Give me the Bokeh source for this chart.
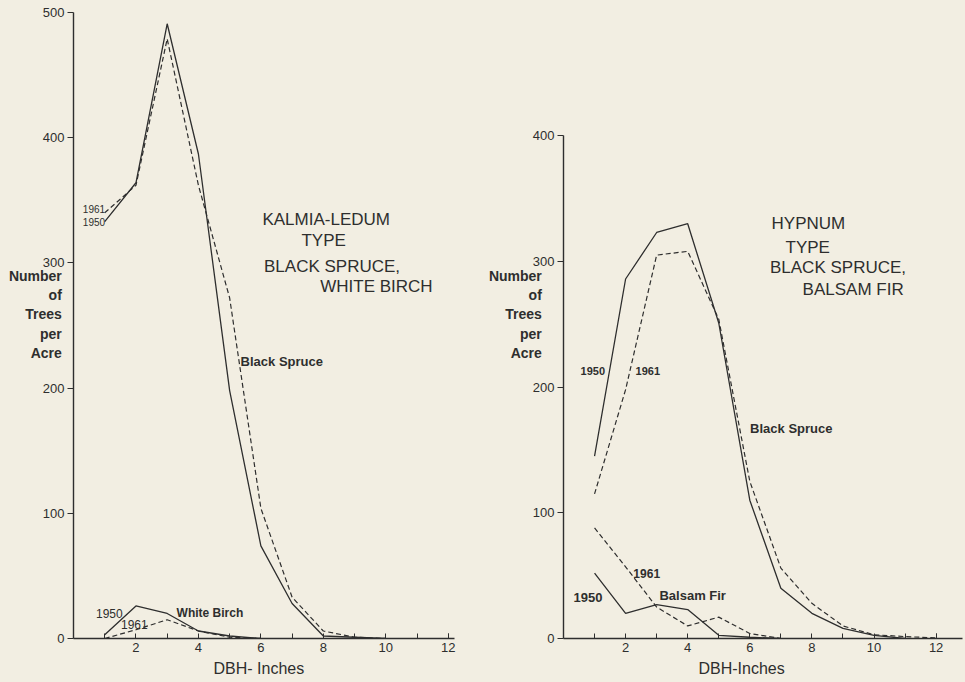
from bokeh.plotting import figure
from bokeh.layouts import row
from bokeh.models import Range1d, FixedTicker, Label, Title
from bokeh.embed import file_html
from bokeh.resources import INLINE

# ---------------- data ----------------
dbh = [1, 2, 3, 4, 5, 6, 7, 8, 9, 10, 11, 12]

# Kalmia-Ledum type
kl_spruce_1950 = [333, 364, 491, 387, 198, 74, 28, 2, 1, 0]
kl_spruce_1961 = [340, 362, 479, 362, 272, 104, 33, 6, 1, 0]
kl_birch_1950 = [3, 26, 20, 6, 2, 0]
kl_birch_1961 = [0, 7, 15, 6, 1, 0, 0]

# Hypnum type
hy_spruce_1950 = [145, 286, 323, 330, 251, 110, 40, 20, 8, 2.5, 0]
hy_spruce_1961 = [115, 198, 305, 308, 254, 125, 56, 28, 10, 3, 1.5, 0.5]
hy_fir_1950 = [52, 20, 27, 23, 2.5, 1, 0]
hy_fir_1961 = [88, 57, 25, 10, 17, 4, 0]

x_major = [2, 4, 6, 8, 10, 12]
x_minor = [1, 3, 5, 7, 9, 11, 12]
left_yticks = [0, 100, 200, 300, 400, 500]
right_yticks = [0, 100, 200, 300, 400]

# ---------------- style ----------------
BG = "#f2eee2"
INK = "#2e2e2e"
FONT = "Liberation Sans"
YLABEL = "Number\nof\nTrees\nper\nAcre\n"


def make_fig(xend, ytop, ybound, yticks, fw, bl, br, xlab, xlab_off, ylab_standoff):
    p = figure(frame_width=fw, frame_height=629, x_range=Range1d(0, xend),
               y_range=Range1d(0, ytop), output_backend="svg",
               toolbar_location=None, background_fill_color=BG,
               border_fill_color=BG)
    p.min_border_left = bl
    p.min_border_right = br
    p.min_border_top = 9
    p.min_border_bottom = 20
    p.outline_line_color = None
    p.grid.visible = False
    p.xaxis.ticker = FixedTicker(ticks=x_major, minor_ticks=x_minor)
    p.yaxis.ticker = FixedTicker(ticks=yticks)
    p.yaxis.bounds = (0, ybound)
    for ax in (p.xaxis[0], p.yaxis[0]):
        ax.axis_line_color = INK
        ax.axis_line_width = 1.4
        ax.major_tick_line_color = INK
        ax.minor_tick_line_color = INK
        ax.major_label_text_font = FONT
        ax.major_label_text_font_size = "13px"
        ax.major_label_text_color = INK
    p.xaxis.major_tick_in = 5
    p.xaxis.major_tick_out = 0
    p.xaxis.minor_tick_in = 5
    p.xaxis.minor_tick_out = 0
    p.xaxis.major_label_standoff = 4
    p.yaxis.major_tick_in = 0
    p.yaxis.major_tick_out = 6
    p.yaxis.minor_tick_line_color = None
    p.yaxis.major_label_standoff = 3
    # horizontal multi-line y label
    p.yaxis.axis_label = YLABEL
    p.yaxis.axis_label_orientation = "horizontal"
    p.yaxis.axis_label_text_font = FONT
    p.yaxis.axis_label_text_font_size = "14px"
    p.yaxis.axis_label_text_font_style = "bold"
    p.yaxis.axis_label_text_color = INK
    p.yaxis.axis_label_text_align = "center"
    p.yaxis.axis_label_text_line_height = 1.2
    p.yaxis.axis_label_standoff = ylab_standoff
    # x label as a title below the axis
    p.add_layout(Title(text=xlab, align="left", offset=xlab_off,
                       text_font=FONT, text_font_size="16px",
                       text_font_style="normal", text_color=INK,
                       standoff=7), "below")
    return p


def lab(p, x, y, text, size="12px", bold=False, align="left"):
    p.add_layout(Label(x=x, y=y, text=text, text_font=FONT, text_font_size=size,
                       text_font_style="bold" if bold else "normal",
                       text_color=INK, text_align=align,
                       text_baseline="middle"))


# ---------------- left panel ----------------
p1 = make_fig(12.2, 502.4, 500, left_yticks, 381, 73, 31, "DBH- Inches", 140, -22)
p1.line(dbh[:len(kl_spruce_1950)], kl_spruce_1950, line_color=INK, line_width=1.3)
p1.line(dbh[:len(kl_spruce_1961)], kl_spruce_1961, line_color=INK, line_width=1.2,
        line_dash="5 3")
p1.line(dbh[:len(kl_birch_1950)], kl_birch_1950, line_color=INK, line_width=1.3)
p1.line(dbh[:len(kl_birch_1961)], kl_birch_1961, line_color=INK, line_width=1.2,
        line_dash="5 3")

lab(p1, 0.3, 343, "1961", "10px")
lab(p1, 0.3, 333, "1950", "10px")
lab(p1, 6.05, 335, "KALMIA-LEDUM", "17px")
lab(p1, 7.3, 318, "TYPE", "17px")
lab(p1, 6.1, 297, "BLACK  SPRUCE,", "17px")
lab(p1, 7.9, 281, "WHITE BIRCH", "17px")
lab(p1, 5.35, 221, "Black Spruce", "13px", True)
lab(p1, 0.72, 20, "1950", "12px")
lab(p1, 1.52, 11, "1961", "12px")
lab(p1, 3.3, 20, "White Birch", "12px", True)

# ---------------- right panel ----------------
p2 = make_fig(12.85, 500.4, 400, right_yticks, 399, 74, 1, "DBH-Inches", 135, -12)
p2.line(dbh[:len(hy_spruce_1950)], hy_spruce_1950, line_color=INK, line_width=1.3)
p2.line(dbh[:len(hy_spruce_1961)], hy_spruce_1961, line_color=INK, line_width=1.2,
        line_dash="5 3")
p2.line(dbh[:len(hy_fir_1950)], hy_fir_1950, line_color=INK, line_width=1.3)
p2.line(dbh[:len(hy_fir_1961)], hy_fir_1961, line_color=INK, line_width=1.2,
        line_dash="5 3")

lab(p2, 6.7, 330, "HYPNUM", "17px")
lab(p2, 7.15, 311, "TYPE", "17px")
lab(p2, 6.65, 295, "BLACK  SPRUCE,", "17px")
lab(p2, 7.7, 278, "BALSAM  FIR", "17px")
lab(p2, 0.55, 213, "1950", "11px", True)
lab(p2, 2.32, 213, "1961", "11px", True)
lab(p2, 6.01, 167, "Black Spruce", "13px", True)
lab(p2, 2.25, 52, "1961", "12px", True)
lab(p2, 0.32, 33, "1950", "13px", True)
lab(p2, 3.09, 34, "Balsam Fir", "13px", True)

layout = row(p1, p2, spacing=0)
html = file_html(layout, INLINE)
html = html.replace("<head>", "<head><style>body{background:%s;}</style>" % BG, 1)
open("out.html", "w").write(html)
